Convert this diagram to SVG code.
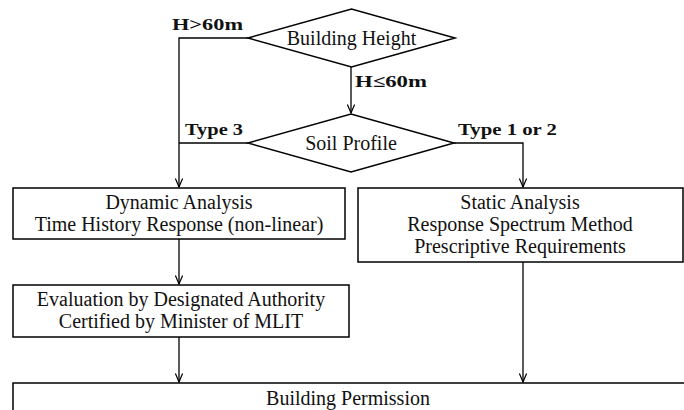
<svg xmlns="http://www.w3.org/2000/svg" width="684" height="410" viewBox="0 0 684 410">
<defs>
<marker id="arr" viewBox="-10 -5 11 10" markerWidth="11" markerHeight="10" refX="0" refY="0" markerUnits="userSpaceOnUse" orient="auto">
<path d="M-8.5,-3.6 L0,0 L-8.5,3.6" fill="none" stroke="#000" stroke-width="1.2"/>
</marker>
<style>
.shape{fill:#fff;stroke:#000;stroke-width:1.5}
.t{font-family:'Liberation Serif','Times New Roman',serif;font-size:20px;fill:#111;text-anchor:middle}
.lb{font-family:'Liberation Serif','Times New Roman',serif;font-size:17px;font-weight:bold;fill:#111}
.c{fill:none;stroke:#000;stroke-width:1.3}
</style>
</defs>
<rect width="684" height="410" fill="#fff"/>
<g id="connectors">
<polyline class="c" points="248,38 179,38 179,187" marker-end="url(#arr)"/>
<line class="c" x1="351" y1="67" x2="351" y2="113" marker-end="url(#arr)"/>
<line class="c" x1="248" y1="143" x2="179" y2="143"/>
<polyline class="c" points="454,143 523,143 523,187" marker-end="url(#arr)"/>
<line class="c" x1="179" y1="239" x2="179" y2="284" marker-end="url(#arr)"/>
<line class="c" x1="179" y1="337" x2="179" y2="382" marker-end="url(#arr)"/>
<line class="c" x1="523" y1="262" x2="523" y2="382" marker-end="url(#arr)"/>
<text class="lb" x="172" y="30" textLength="71" lengthAdjust="spacingAndGlyphs">H&gt;60m</text>
<text class="lb" x="355" y="87" textLength="72" lengthAdjust="spacingAndGlyphs">H≤60m</text>
<text class="lb" x="185" y="135" textLength="58" lengthAdjust="spacingAndGlyphs">Type 3</text>
<text class="lb" x="458" y="135" textLength="99" lengthAdjust="spacingAndGlyphs">Type 1 or 2</text>
</g>
<g id="building-height">
<polygon class="shape" points="248,38 351.5,9 455,38 351.5,67"/>
<text class="t" x="351.5" y="45">Building Height</text>
</g>
<g id="soil-profile">
<polygon class="shape" points="248,143 351,114 454,143 351,172"/>
<text class="t" x="351" y="150">Soil Profile</text>
</g>
<g id="dynamic-analysis">
<rect class="shape" x="13" y="188" width="332" height="51"/>
<text class="t" x="179" y="209">Dynamic Analysis</text>
<text class="t" x="179" y="231">Time History Response (non-linear)</text>
</g>
<g id="static-analysis">
<rect class="shape" x="358" y="188" width="325" height="74"/>
<text class="t" x="520" y="209">Static Analysis</text>
<text class="t" x="520" y="231">Response Spectrum Method</text>
<text class="t" x="520" y="253">Prescriptive Requirements</text>
</g>
<g id="evaluation">
<rect class="shape" x="13" y="285" width="336" height="52"/>
<text class="t" x="181" y="306">Evaluation by Designated Authority</text>
<text class="t" x="181" y="328">Certified by Minister of MLIT</text>
</g>
<g id="building-permission">
<rect class="shape" x="13" y="383" width="700" height="60"/>
<text class="t" x="348" y="405">Building Permission</text>
</g>
</svg>
